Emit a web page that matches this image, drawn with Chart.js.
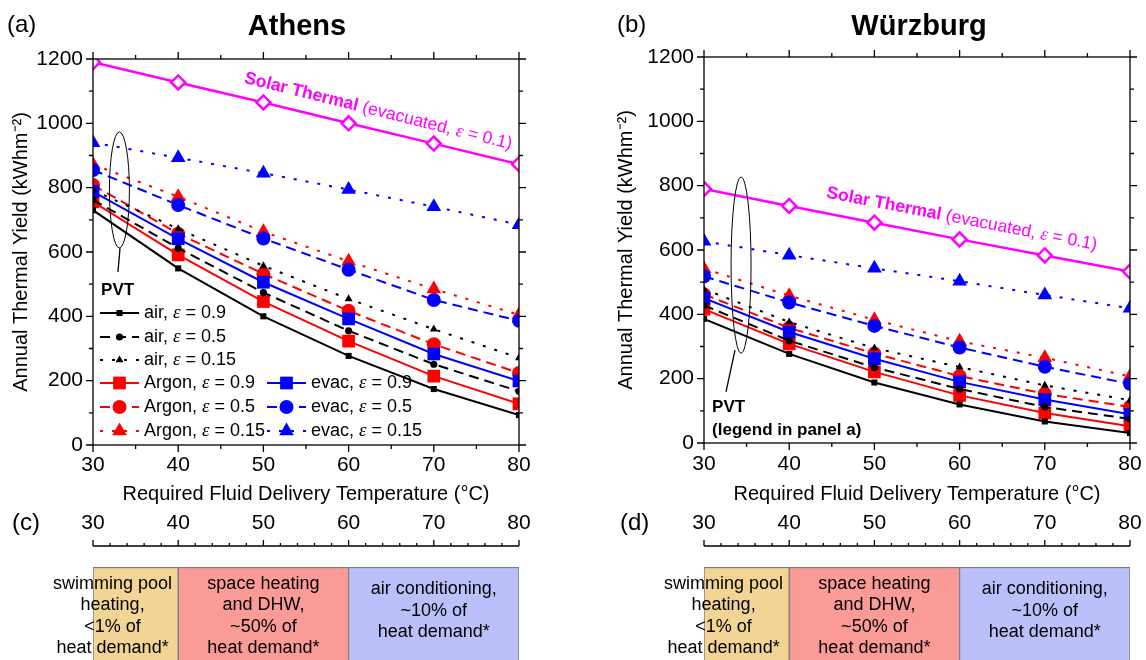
<!DOCTYPE html>
<html>
<head>
<meta charset="utf-8">
<script src="https://cdn.jsdelivr.net/npm/chart.js@4.4.1/dist/chart.umd.min.js"></script>
<style>
  body { margin: 0; background: #fff; width: 1146px; height: 660px; position: relative; overflow: hidden; }
  canvas { position: absolute; }
</style>
</head>
<body>
<canvas id="chartA" width="560" height="510" style="left:0;top:0;width:560px;height:510px"></canvas>
<canvas id="chartB" width="573" height="510" style="left:573px;top:0;width:573px;height:510px"></canvas>
<canvas id="stripC" width="560" height="150" style="left:0;top:510px;width:560px;height:150px"></canvas>
<canvas id="stripD" width="573" height="150" style="left:573px;top:510px;width:573px;height:150px"></canvas>
<script>
// ---- data ----
const temps = [30, 40, 50, 60, 70, 80];
const yTicks = [0, 200, 400, 600, 800, 1000, 1200];

// Athens, annual thermal yield (kWh/m2)
const athSolar   = [1190, 1127, 1065, 1000, 937, 873];
const athAir09   = [730, 549, 400, 277, 174, 93];
const athAir05   = [762, 612, 474, 355, 251, 167];
const athAir015  = [792, 672, 557, 454, 360, 271];
const athArg09   = [756, 591, 446, 323, 214, 128];
const athArg05   = [808, 657, 532, 417, 313, 224];
const athArg015  = [872, 772, 663, 571, 485, 405];
const athEvac09  = [788, 641, 506, 392, 283, 199];
const athEvac05  = [855, 746, 642, 545, 451, 386];
const athEvac015 = [940, 893, 845, 794, 741, 685];

// Würzburg
const wzbSolar   = [790, 737, 685, 633, 583, 533];
const wzbAir09   = [386, 277, 188, 120, 67, 31];
const wzbAir05   = [428, 318, 235, 168, 112, 75];
const wzbAir015  = [478, 376, 295, 236, 179, 133];
const wzbArg09   = [416, 308, 221, 148, 93, 52];
const wzbArg05   = [462, 358, 278, 208, 153, 112];
const wzbArg015  = [542, 458, 383, 316, 265, 207];
const wzbEvac09  = [450, 345, 262, 190, 135, 89];
const wzbEvac05  = [518, 437, 364, 297, 237, 184];
const wzbEvac015 = [627, 584, 543, 503, 460, 419];

// temperature ranges of applications (panels c, d)
const useBands = [[30, 40], [40, 60], [60, 80]];
const useLabels = [
    ['swimming pool', 'heating,', '<1% of', 'heat demand*'],
    ['space heating', 'and DHW,', '~50% of', 'heat demand*'],
    ['air conditioning,', '~10% of', 'heat demand*']
];
const useColors = ['#F2D595', '#FA9B98', '#BBC0FA'];

// ---- styling helpers ----
const FAM = "'Liberation Sans', Arial, Helvetica, sans-serif";
const EPS_FONT = "'Liberation Serif', 'DejaVu Serif', serif";
const MAGENTA = '#FF00FF';
const CLEAR = 'rgba(0,0,0,0)';
Chart.defaults.font.family = FAM;
Chart.defaults.color = '#000';

const SOLID = [], DASH = [10, 6], DOT = [3, 9];

function series(label, data, color, dash, style, r) {
    return {
        label: label,
        data: data,
        borderColor: color,
        backgroundColor: color,
        borderWidth: 2,
        borderDash: dash,
        pointStyle: style,
        pointRadius: r,
        pointBorderWidth: 0,
        pointBackgroundColor: color,
        tension: 0
    };
}

// index 0 is painted last (on top)
function buildSets(air, evac, arg, solar) {
    return [
        series('air, ε = 0.9', air[0], '#000000', SOLID, 'rect', 4.3),
        series('air, ε = 0.5', air[1], '#000000', DASH, 'circle', 3.6),
        series('air, ε = 0.15', air[2], '#000000', DOT, 'triangle', 4.6),
        series('evac, ε = 0.9', evac[0], '#0000FF', SOLID, 'rect', 9),
        series('evac, ε = 0.5', evac[1], '#0000FF', DASH, 'circle', 7),
        series('evac, ε = 0.15', evac[2], '#0000FF', DOT, 'triangle', 8.5),
        series('Argon, ε = 0.9', arg[0], '#FF0000', SOLID, 'rect', 9),
        series('Argon, ε = 0.5', arg[1], '#FF0000', DASH, 'circle', 7),
        series('Argon, ε = 0.15', arg[2], '#FF0000', DOT, 'triangle', 8.5),
        {
            label: 'Solar Thermal',
            data: solar,
            borderColor: MAGENTA,
            backgroundColor: '#fff',
            borderWidth: 2.5,
            pointStyle: 'rectRot',
            pointRadius: 7,
            pointBorderWidth: 2.5,
            pointBackgroundColor: '#fff',
            pointBorderColor: MAGENTA,
            tension: 0
        }
    ];
}

function rich(ctx, parts, x, y) {
    let cx = x;
    parts.forEach(p => {
        ctx.font = p.f;
        ctx.fillText(p.t, cx, y);
        cx += ctx.measureText(p.t).width;
    });
}

function epsParts(str, size) {
    const i = str.indexOf('ε');
    return [
        { t: str.slice(0, i), f: size + 'px ' + FAM },
        { t: 'ε', f: 'italic ' + (size + 1) + 'px ' + EPS_FONT },
        { t: str.slice(i + 1), f: size + 'px ' + FAM }
    ];
}

function marker(ctx, ds, x, y) {
    ctx.save();
    ctx.setLineDash([]);
    ctx.fillStyle = ds.pointBackgroundColor;
    ctx.strokeStyle = ds.pointBorderColor || ds.borderColor;
    ctx.lineWidth = ds.pointBorderWidth;
    Chart.helpers.drawPoint(ctx, {
        pointStyle: ds.pointStyle, radius: ds.pointRadius,
        rotation: 0, borderWidth: ds.pointBorderWidth
    }, x, y);
    ctx.restore();
}

// invisible tick marks: they only push the labels away from the axis
function spacer(len) {
    return { display: true, drawOnChartArea: false, drawTicks: true, tickLength: len, tickColor: CLEAR };
}

// frame, Origin-style ticks, titles and notes
const deco = {
    id: 'deco',
    afterDatasetsDraw(chart, args, o) {
        const { ctx, chartArea: a, scales: { x, y } } = chart;
        ctx.save();
        ctx.strokeStyle = '#000';
        ctx.lineWidth = 1.3;
        ctx.beginPath();
        for (let v = x.min; v <= x.max; v += 5) {
            const p = x.getPixelForValue(v), l = v % 10 ? 4 : 7;
            ctx.moveTo(p, a.bottom); ctx.lineTo(p, a.bottom + l);
            ctx.moveTo(p, a.top); ctx.lineTo(p, a.top - l);
        }
        for (let v = y.min; v <= y.max; v += 100) {
            const p = y.getPixelForValue(v), l = v % 200 ? 4 : 7;
            ctx.moveTo(a.left, p); ctx.lineTo(a.left - l, p);
            ctx.moveTo(a.right, p); ctx.lineTo(a.right + l, p);
        }
        ctx.stroke();
        ctx.strokeRect(a.left, a.top, a.right - a.left, a.bottom - a.top);
        ctx.restore();
    },
    afterDraw(chart, args, o) {
        const { ctx, chartArea: a, scales: { x, y } } = chart;
        ctx.save();
        ctx.fillStyle = '#000';
        ctx.textBaseline = 'middle';
        ctx.textAlign = 'left';
        ctx.font = '24px ' + FAM;
        ctx.fillText(o.tag, o.tagX, o.tagY);
        ctx.textAlign = 'center';
        ctx.font = 'bold 29px ' + FAM;
        ctx.fillText(o.title, o.titleX, o.titleY);

        // solar thermal label along its line
        ctx.save();
        ctx.translate(x.getPixelForValue(o.solar.x), y.getPixelForValue(o.solar.y));
        ctx.rotate(o.solar.angle * Math.PI / 180);
        ctx.textAlign = 'left';
        ctx.fillStyle = MAGENTA;
        rich(ctx, [
            { t: 'Solar Thermal', f: 'bold 17.5px ' + FAM },
            { t: ' (evacuated, ', f: '17.5px ' + FAM },
            { t: 'ε', f: 'italic 18.5px ' + EPS_FONT },
            { t: ' = 0.1)', f: '17.5px ' + FAM }
        ], 0, 0);
        ctx.restore();

        // ellipse around the PVT curves and its pointer
        const e = o.ellipse;
        ctx.strokeStyle = '#000';
        ctx.lineWidth = 1;
        ctx.beginPath();
        ctx.ellipse(x.getPixelForValue(e.x), y.getPixelForValue(e.y), e.rx, e.ry, 0, 0, Math.PI * 2);
        ctx.stroke();
        ctx.lineWidth = 1.3;
        ctx.beginPath();
        ctx.moveTo(x.getPixelForValue(o.pointer[0][0]), y.getPixelForValue(o.pointer[0][1]));
        ctx.lineTo(x.getPixelForValue(o.pointer[1][0]), y.getPixelForValue(o.pointer[1][1]));
        ctx.stroke();

        ctx.textAlign = 'left';
        ctx.font = 'bold 17px ' + FAM;
        (o.notes || []).forEach(n => {
            ctx.fillText(n.text, x.getPixelForValue(n.x), y.getPixelForValue(n.y));
        });

        if (o.legend) {
            const L = o.legend;
            L.items.forEach(it => {
                const ds = chart.data.datasets.find(d => d.label === it.label);
                const x0 = a.left + L.cols[it.col], x1 = x0 + 39;
                const yy = a.top + L.rows[it.row];
                ctx.save();
                ctx.strokeStyle = ds.borderColor;
                ctx.lineWidth = ds.borderWidth;
                ctx.setLineDash(ds.borderDash);
                ctx.beginPath();
                ctx.moveTo(x0, yy); ctx.lineTo(x1, yy);
                ctx.stroke();
                ctx.restore();
                marker(ctx, ds, (x0 + x1) / 2, yy);
                ctx.fillStyle = '#000';
                rich(ctx, epsParts(ds.label, 18), x1 + 5, yy);
            });
        }
        ctx.restore();
    }
};

function mainChart(id, sets, cfg) {
    return new Chart(document.getElementById(id), {
        type: 'line',
        data: { labels: temps, datasets: sets },
        plugins: [deco],
        options: {
            responsive: false,
            animation: false,
            layout: { padding: { top: cfg.top, right: cfg.right, left: 0, bottom: 0 } },
            plugins: {
                legend: { display: false },
                tooltip: { enabled: false },
                deco: cfg.deco
            },
            scales: {
                x: {
                    type: 'linear', min: 30, max: 80,
                    afterBuildTicks: s => { s.ticks = temps.map(v => ({ value: v })); },
                    afterFit: s => { s.height = cfg.xh; },
                    grid: spacer(cfg.xgap),
                    border: { display: false },
                    ticks: { padding: 0, font: { size: 21 }, callback: v => String(v) },
                    title: {
                        display: true, text: 'Required Fluid Delivery Temperature (°C)',
                        font: { size: 20 }, padding: { top: 0, bottom: 4 }
                    }
                },
                y: {
                    type: 'linear', min: 0, max: 1200,
                    afterBuildTicks: s => { s.ticks = yTicks.map(v => ({ value: v })); },
                    afterFit: s => { s.width = cfg.yw; },
                    grid: spacer(10),
                    border: { display: false },
                    ticks: { padding: 0, font: { size: 21 }, callback: v => String(v) },
                    title: {
                        display: true, text: 'Annual Thermal Yield (kWhm⁻²)',
                        font: { size: 20 }, padding: { top: cfg.ytp, bottom: 0 }
                    }
                }
            }
        }
    });
}

const legendA = {
    cols: [7, 174],
    rows: [254, 278, 301, 324, 348, 372],
    items: [
        { label: 'air, ε = 0.9', col: 0, row: 0 },
        { label: 'air, ε = 0.5', col: 0, row: 1 },
        { label: 'air, ε = 0.15', col: 0, row: 2 },
        { label: 'Argon, ε = 0.9', col: 0, row: 3 },
        { label: 'Argon, ε = 0.5', col: 0, row: 4 },
        { label: 'Argon, ε = 0.15', col: 0, row: 5 },
        { label: 'evac, ε = 0.9', col: 1, row: 3 },
        { label: 'evac, ε = 0.5', col: 1, row: 4 },
        { label: 'evac, ε = 0.15', col: 1, row: 5 }
    ]
};

mainChart('chartA',
    buildSets([athAir09, athAir05, athAir015], [athEvac09, athEvac05, athEvac015],
              [athArg09, athArg05, athArg015], athSolar),
    {
        top: 59, right: 41, xh: 65, yw: 93, xgap: 8, ytp: 9,
        deco: {
            tag: '(a)', tagX: 7, tagY: 25,
            title: 'Athens', titleX: 297, titleY: 27,
            solar: { x: 47.8, y: 1141, angle: 14 },
            ellipse: { x: 33.1, y: 793, rx: 10, ry: 58 },
            pointer: [[33.17, 612], [32.93, 538]],
            notes: [{ text: 'PVT', x: 30.95, y: 482 }],
            legend: legendA
        }
    });

mainChart('chartB',
    buildSets([wzbAir09, wzbAir05, wzbAir015], [wzbEvac09, wzbEvac05, wzbEvac015],
              [wzbArg09, wzbArg05, wzbArg015], wzbSolar),
    {
        top: 57, right: 16, xh: 67, yw: 131, xgap: 9, ytp: 41,
        deco: {
            tag: '(b)', tagX: 44, tagY: 25,
            title: 'Würzburg', titleX: 346, titleY: 27,
            solar: { x: 44.4, y: 778, angle: 11 },
            ellipse: { x: 34.35, y: 553, rx: 10, ry: 88 },
            pointer: [[33.64, 289], [32.58, 159]],
            notes: [
                { text: 'PVT', x: 30.95, y: 112 },
                { text: '(legend in panel a)', x: 30.95, y: 40 }
            ]
        }
    });

// ---- panels c, d: temperature ranges of applications ----
const stripDeco = {
    id: 'stripDeco',
    afterDraw(chart, args, o) {
        const { ctx, chartArea: a, scales: { x } } = chart;
        const ay = a.top - 21;
        ctx.save();
        ctx.strokeStyle = '#000';
        ctx.lineWidth = 1.3;
        ctx.beginPath();
        ctx.moveTo(x.getPixelForValue(x.min), ay);
        ctx.lineTo(x.getPixelForValue(x.max), ay);
        for (let v = x.min; v <= x.max; v += 2) {
            const p = x.getPixelForValue(v), l = v % 10 ? 3 : 6;
            ctx.moveTo(p, ay); ctx.lineTo(p, ay - l);
        }
        ctx.stroke();

        ctx.fillStyle = '#000';
        ctx.textBaseline = 'middle';
        ctx.textAlign = 'left';
        ctx.font = '24px ' + FAM;
        ctx.fillText(o.tag, o.tagX, o.tagY);

        ctx.textAlign = 'center';
        ctx.font = '18px ' + FAM;
        useBands.forEach((b, i) => {
            const lines = useLabels[i];
            let cx = (x.getPixelForValue(b[0]) + x.getPixelForValue(b[1])) / 2;
            if (i === 0) cx -= 23;
            const y0 = a.top + 17 + (4 - lines.length) * 5.5;
            lines.forEach((t, k) => ctx.fillText(t, cx, y0 + k * 21.3));
        });
        ctx.restore();
    }
};

function stripChart(id, cfg) {
    return new Chart(document.getElementById(id), {
        type: 'bar',
        data: {
            labels: ['use'],
            datasets: useBands.map((b, i) => ({
                data: [[b[0], b[1]]],
                backgroundColor: useColors[i],
                borderColor: '#7a7a7a',
                borderWidth: { top: 1.5, left: 1, right: 1, bottom: 0 },
                borderSkipped: false,
                grouped: false,
                barPercentage: 1,
                categoryPercentage: 1
            }))
        },
        plugins: [stripDeco],
        options: {
            indexAxis: 'y',
            responsive: false,
            animation: false,
            layout: { padding: { left: cfg.left, right: cfg.right, top: 0, bottom: 0 } },
            plugins: {
                legend: { display: false },
                tooltip: { enabled: false },
                stripDeco: { tag: cfg.tag, tagX: cfg.tagX, tagY: 13 }
            },
            scales: {
                x: {
                    type: 'linear', position: 'top', min: 30, max: 80,
                    afterBuildTicks: s => { s.ticks = temps.map(v => ({ value: v })); },
                    afterFit: s => { s.height = 57; },
                    grid: spacer(31),
                    border: { display: false },
                    ticks: { padding: 0, font: { size: 21 }, callback: v => String(v) }
                },
                y: { display: false }
            }
        }
    });
}

stripChart('stripC', { left: 93, right: 41, tag: '(c)', tagX: 12 });
stripChart('stripD', { left: 131, right: 16, tag: '(d)', tagX: 47 });
</script>
</body>
</html>
